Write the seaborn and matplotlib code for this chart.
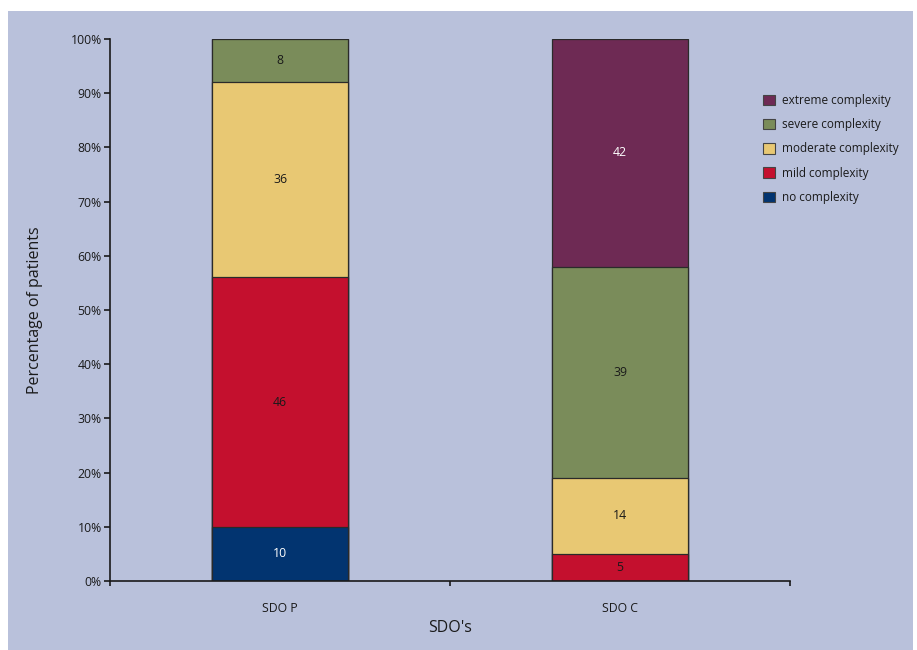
import matplotlib
matplotlib.use("Agg")
import matplotlib.pyplot as plt
import matplotlib.patches as mpatches
from matplotlib.ticker import FixedLocator, PercentFormatter
import numpy as np
import pandas as pd
import seaborn as sns

categories = ["SDO P", "SDO C"]
levels = ["no complexity", "mild complexity", "moderate complexity",
          "severe complexity", "extreme complexity"]
no_complexity = [10, 0]
mild_complexity = [46, 5]
moderate_complexity = [36, 14]
severe_complexity = [8, 39]
extreme_complexity = [0, 42]
yticks = [0, 10, 20, 30, 40, 50, 60, 70, 80, 90, 100]

colors = {
    "no complexity": "#023470",
    "mild complexity": "#c4102e",
    "moderate complexity": "#e8c873",
    "severe complexity": "#7a8c5a",
    "extreme complexity": "#6e2a54",
}
text_colors = {
    "no complexity": "white",
    "mild complexity": "#1a1a1a",
    "moderate complexity": "#1a1a1a",
    "severe complexity": "#1a1a1a",
    "extreme complexity": "white",
}
BG = "#b9c1db"

values = [no_complexity, mild_complexity, moderate_complexity,
          severe_complexity, extreme_complexity]
rows = []
for lvl, vals in zip(levels, values):
    for cat, v in zip(categories, vals):
        rows.append({"SDO": cat, "level": lvl, "value": v})
df = pd.DataFrame(rows)
df["level"] = pd.Categorical(df["level"], levels, ordered=True)
df["SDO"] = pd.Categorical(df["SDO"], categories, ordered=True)
df = df.sort_values(["SDO", "level"])
df["cum"] = df.groupby("SDO", observed=True)["value"].cumsum()
df["bottom"] = df["cum"] - df["value"]

sns.set_theme(style="white")
plt.rcParams["font.family"] = ["Open Sans", "DejaVu Sans"]

fig = plt.figure(figsize=(9.17, 6.5), dpi=100, facecolor="white")
fig.patches.append(mpatches.Rectangle((8 / 917, 0), (913 - 8) / 917, 1 - 11 / 650,
                                      transform=fig.transFigure, facecolor=BG,
                                      edgecolor="none", zorder=-10))
ax = fig.add_axes([110 / 917, 1 - 581 / 650, 680 / 917, (581 - 39) / 650])
ax.set_zorder(5)
ax.set_facecolor(BG)

for lvl in reversed(levels):
    sub = df[df["level"] == lvl]
    sns.barplot(data=sub, x="SDO", y="cum", order=categories, color=colors[lvl],
                width=0.4, edgecolor="#2a2a2a", linewidth=0.9, errorbar=None,
                saturation=1, ax=ax)

for _, r in df.iterrows():
    if r["value"] > 0:
        i = categories.index(r["SDO"])
        ax.text(i, r["bottom"] + r["value"] / 2, f"{r['value']:g}",
                ha="center", va="center", fontsize=8.8,
                color=text_colors[r["level"]])

ax.set_xlim(-0.5, 1.5)
ax.set_ylim(0, 100)
ax.yaxis.set_major_locator(FixedLocator(yticks))
ax.yaxis.set_major_formatter(PercentFormatter(decimals=0))
ax.xaxis.set_minor_locator(FixedLocator([-0.5, 0.5, 1.5]))
ax.tick_params(axis="x", which="major", length=0, pad=15, labelsize=8.8, colors="#1a1a1a")
ax.tick_params(axis="x", which="minor", length=3.5, width=1.2, direction="out", color="#1a1a1a", bottom=True)
ax.tick_params(axis="y", which="major", length=4, width=1.2, direction="out", pad=2,
               labelsize=8.8, colors="#1a1a1a", left=True)

for s in ["top", "right"]:
    ax.spines[s].set_visible(False)
for s in ["left", "bottom"]:
    ax.spines[s].set_color("#1a1a1a")
    ax.spines[s].set_linewidth(1.2)

ax.set_xlabel("SDO's", fontsize=11.5, color="#1a1a1a", labelpad=4)
ax.set_ylabel("Percentage of patients", fontsize=11.5, color="#1a1a1a", labelpad=20)

handles = [mpatches.Patch(facecolor=colors[l], edgecolor="#444444", linewidth=0.8)
           for l in reversed(levels)]
leg = fig.legend(handles, list(reversed(levels)), loc="upper left",
                 bbox_to_anchor=(763 / 917, 1 - 94 / 650), frameon=False,
                 fontsize=8.5, handlelength=1.0, handleheight=1.0,
                 handletextpad=0.6, labelspacing=0.95, borderpad=0, borderaxespad=0,
                 labelcolor="#1a1a1a")
leg.set_zorder(10)

fig.savefig("out.png", dpi=100, facecolor="white")
